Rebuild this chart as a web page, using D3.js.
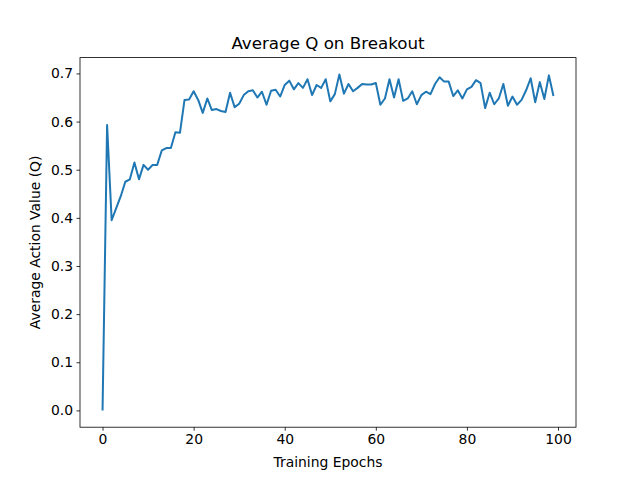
<!DOCTYPE html>
<html><head><meta charset="utf-8">
<script src="https://cdn.jsdelivr.net/npm/d3@7"></script>
<style>
body { margin: 0; background: #fff; }
text { font-family: "DejaVu Sans", sans-serif; fill: #000; }
</style></head>
<body><div id="chart"></div>
<script>
// average Q per epoch
var qValues = [0.0, 0.593, 0.395, 0.42, 0.445, 0.475, 0.48, 0.515, 0.48, 0.51,
  0.50, 0.51, 0.51, 0.54, 0.545, 0.545, 0.578, 0.577, 0.645, 0.646,
  0.663, 0.645, 0.618, 0.648, 0.624, 0.626, 0.622, 0.620, 0.660, 0.630,
  0.637, 0.655, 0.663, 0.665, 0.650, 0.662, 0.635, 0.664, 0.666, 0.652,
  0.676, 0.685, 0.667, 0.680, 0.670, 0.688, 0.655, 0.676, 0.670, 0.688,
  0.642, 0.657, 0.698, 0.658, 0.678, 0.663, 0.670, 0.678, 0.677, 0.677,
  0.680, 0.635, 0.648, 0.688, 0.650, 0.688, 0.643, 0.648, 0.663, 0.636,
  0.655, 0.662, 0.657, 0.678, 0.692, 0.683, 0.683, 0.653, 0.665, 0.648,
  0.667, 0.672, 0.686, 0.680, 0.628, 0.660, 0.636, 0.648, 0.678, 0.633,
  0.652, 0.635, 0.645, 0.665, 0.690, 0.640, 0.682, 0.647, 0.696, 0.653];
var epochs = qValues.map(function(d, i) { return i; });
var xTicks = [0, 20, 40, 60, 80, 100];
var yTicks = [0, 0.1, 0.2, 0.3, 0.4, 0.5, 0.6, 0.7];

var W = 640, H = 480;
var margin = {top: 57.6, right: 64, bottom: 52.8, left: 80},
    width = W - margin.left - margin.right,
    height = H - margin.top - margin.bottom;

var svg = d3.select("#chart").append("svg").attr("width", W).attr("height", H);
var g = svg.append("g").attr("transform", "translate(" + margin.left + "," + margin.top + ")");

var x = d3.scaleLinear().domain([-4.95, 103.95]).range([0, width]);
var y = d3.scaleLinear().domain([-0.0349, 0.7329]).range([height, 0]);

var xAxis = g.append("g").attr("transform", "translate(0," + height + ")")
  .call(d3.axisBottom(x).tickValues(xTicks).tickSize(3.5).tickPadding(3.5).tickFormat(d3.format("d")));
var yAxis = g.append("g")
  .call(d3.axisLeft(y).tickValues(yTicks).tickSize(3.5).tickPadding(3.5).tickFormat(d3.format(".1f")));
[xAxis, yAxis].forEach(function(a) {
  a.selectAll("text").style("font-size", "13.9px").style("font-family", "DejaVu Sans");
  a.selectAll("line").attr("stroke", "#000").attr("stroke-width", 0.8);
  a.select(".domain").remove();
});

g.append("path")
  .datum(epochs)
  .attr("fill", "none")
  .attr("stroke", "#1f77b4")
  .attr("stroke-width", 2)
  .attr("stroke-linejoin", "round")
  .attr("d", d3.line().x(function(d) { return x(d); }).y(function(d) { return y(qValues[d]); }));

g.append("rect").attr("width", width).attr("height", height)
  .attr("fill", "none").attr("stroke", "#000").attr("stroke-width", 0.8);

svg.append("text").attr("x", margin.left + width / 2).attr("y", 49)
  .attr("text-anchor", "middle").style("font-size", "16.7px").text("Average Q on Breakout");
svg.append("text").attr("x", margin.left + width / 2).attr("y", 467)
  .attr("text-anchor", "middle").style("font-size", "13.9px").text("Training Epochs");
svg.append("text").attr("transform", "translate(40," + (margin.top + height / 2) + ") rotate(-90)")
  .attr("text-anchor", "middle").style("font-size", "13.9px").text("Average Action Value (Q)");
</script></body></html>
